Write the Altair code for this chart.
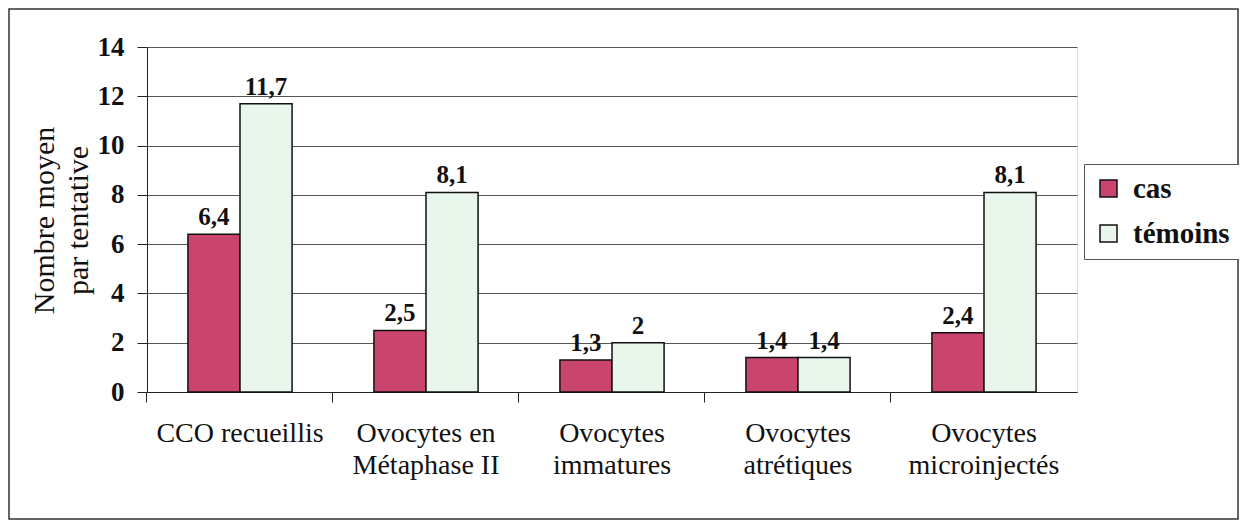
import altair as alt
import pandas as pd

FONT = "Liberation Serif, Times New Roman, serif"

categories = ["CCO recueillis", "Ovocytes en|Métaphase II", "Ovocytes|immatures",
              "Ovocytes|atrétiques", "Ovocytes|microinjectés"]
series = ["cas", "témoins"]
cas_values = [6.4, 2.5, 1.3, 1.4, 2.4]
temoins_values = [11.7, 8.1, 2.0, 1.4, 8.1]
y_ticks = [0, 2, 4, 6, 8, 10, 12, 14]
colors = ["#C9456D", "#E8F6EC"]

rows = []
for i, c in enumerate(categories):
    for s, vals in zip(series, [cas_values, temoins_values]):
        v = vals[i]
        rows.append({"cat": c, "serie": s, "val": v,
                     "label": f"{v:g}".replace(".", ",")})
df = pd.DataFrame(rows)

W, H = 930, 345

x = alt.X("cat:N", sort=categories,
          scale=alt.Scale(paddingInner=0.44, paddingOuter=0.22),
          axis=alt.Axis(title=None, labelExpr="split(datum.label, '|')", labelAngle=0,
                        labelFont=FONT, labelFontSize=28, labelColor="#111",
                        labelPadding=17, labelLineHeight=32, tickSize=10,
                        tickColor="#222", domainColor="#222", bandPosition=-0.393,
                        grid=False, labelBaseline="top"))
xo = alt.XOffset("serie:N", sort=series, scale=alt.Scale(paddingInner=0, paddingOuter=0))
y = alt.Y("val:Q", scale=alt.Scale(domain=[0, 14], nice=False),
          axis=alt.Axis(values=y_ticks, title=["Nombre moyen", "par tentative"],
                        titleFont=FONT, titleFontSize=30, titleFontWeight="normal",
                        titleColor="#111", titleLineHeight=34, titleAngle=270,
                        titleX=-94, titleY=173, titleAlign="center",
                        titleBaseline="alphabetic",
                        labelFont=FONT, labelFontSize=27, labelFontWeight="bold",
                        labelColor="#111", labelPadding=13, tickSize=10,
                        tickColor="#222", domainColor="#222",
                        grid=True, gridColor="#555", gridWidth=1))

color = alt.Color("serie:N", sort=series,
                  scale=alt.Scale(domain=series, range=colors),
                  legend=alt.Legend(title=None, orient="none", legendX=937, legendY=117,
                                    labelFont=FONT, labelFontSize=29, labelFontWeight="bold",
                                    labelColor="#111", symbolType="square", symbolSize=289,
                                    symbolStrokeColor="#111", symbolStrokeWidth=1.5,
                                    strokeColor="#555", padding=10, rowPadding=15,
                                    labelOffset=10, fillColor="white"))

bars = alt.Chart(df).mark_bar(stroke="#111", strokeWidth=1.5).encode(
    x=x, xOffset=xo, y=y, color=color)

texts = alt.Chart(df).mark_text(baseline="bottom", dy=-4, font=FONT, fontSize=25,
                                fontWeight="bold", color="#111").encode(
    x=x, xOffset=xo, y=y, text="label:N")

frame = alt.Chart(pd.DataFrame({"f": [0]})).mark_rect(
    fillOpacity=0, stroke="#333", strokeWidth=1.5).encode(
    x=alt.value(-138), x2=alt.value(1091), y=alt.value(-38), y2=alt.value(472))

chart = alt.layer(bars, texts, frame).properties(
    width=W, height=H,
    autosize=alt.AutoSizeParams(type="none"),
    padding={"left": 139, "top": 39, "right": 162, "bottom": 129},
    background="white",
).configure_view(fill="#D5D8F3", stroke="transparent").configure(font=FONT)

chart.save("out.html", embed_options={"renderer": "svg", "actions": False})
